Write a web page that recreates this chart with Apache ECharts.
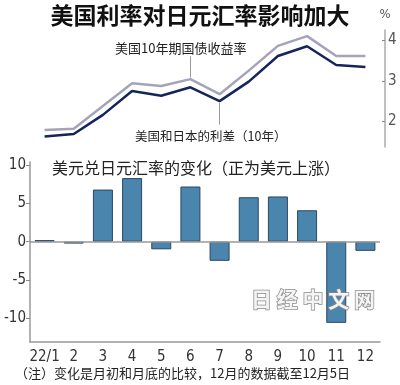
<!DOCTYPE html>
<html><head><meta charset="utf-8">
<script src="https://cdn.jsdelivr.net/npm/echarts@6/dist/echarts.min.js"></script>
<style>html,body{margin:0;padding:0;background:#fff}#c{width:400px;height:385px}</style>
</head><body><div id="c"></div>
<script>
var months = ['22/1','2','3','4','5','6','7','8','9','10','11','12'];
var usYield = [1.79,1.82,2.38,2.94,2.87,3.04,2.67,3.25,3.86,4.10,3.61,3.61];
var spread = [1.63,1.69,2.16,2.75,2.63,2.84,2.50,2.98,3.61,3.85,3.39,3.34];
var fxChange = [0.2,-0.25,6.8,8.3,-1.0,7.2,-2.5,5.8,5.9,4.1,-10.6,-1.2];
var topTicks = [2,3,4];
var bottomTicks = [-10,-5,0,5,10];

var CJK = '"Noto Sans CJK SC", "Noto Sans", sans-serif';
var NUM = '"Liberation Sans Narrow", "DejaVu Sans Condensed", "Liberation Sans", sans-serif';

var chart = echarts.init(document.getElementById('c'), null, {renderer:'canvas'});
chart.setOption({
  animation:false,
  backgroundColor:'#fff',
  grid:[
    {left:30, right:20, top:30, height:117},
    {left:30, right:20, top:162, height:180}
  ],
  xAxis:[
    {gridIndex:0, type:'category', data:months, show:false},
    {gridIndex:1, type:'category', data:months,
     axisLine:{onZero:false, lineStyle:{color:'#999', width:1.5}},
     axisTick:{inside:true, alignWithLabel:true, length:3, lineStyle:{color:'#999'}},
     axisLabel:{interval:0, color:'#333', fontFamily:NUM, fontSize:15, margin:8}}
  ],
  yAxis:[
    {gridIndex:0, type:'value', position:'right', min:1.37, max:4.25, offset:5,
     splitLine:{show:false},
     axisLine:{show:true, lineStyle:{color:'#aaa', width:1.5}},
     axisTick:{show:true, inside:true, length:3, customValues:topTicks, lineStyle:{color:'#888'}},
     axisLabel:{customValues:topTicks, color:'#555', fontFamily:NUM, fontSize:15, margin:3}},
    {gridIndex:1, type:'value', min:-13.1, max:10.4,
     splitLine:{show:false},
     axisLine:{show:true, lineStyle:{color:'#999', width:1.5}},
     axisTick:{show:true, length:4, customValues:bottomTicks, lineStyle:{color:'#888'}},
     axisLabel:{customValues:bottomTicks, color:'#333', fontFamily:NUM, fontSize:15, margin:4}}
  ],
  series:[
    {type:'line', xAxisIndex:0, yAxisIndex:0, data:usYield, symbol:'none',
     lineStyle:{color:'#a4a4b8', width:2.5},
     markLine:{silent:true, symbol:'none', label:{show:false},
       lineStyle:{color:'#999', width:1, type:'solid'},
       data:[[{coord:['6',3.08]},{coord:['6',3.6]}]]}},
    {type:'line', xAxisIndex:0, yAxisIndex:0, data:spread, symbol:'none',
     lineStyle:{color:'#14255a', width:2.5},
     markLine:{silent:true, symbol:'none', label:{show:false},
       lineStyle:{color:'#999', width:1, type:'solid'},
       data:[[{coord:['7',2.46]},{coord:['7',1.92]}]]}},
    {type:'bar', xAxisIndex:1, yAxisIndex:1, data:fxChange, barWidth:20,
     itemStyle:{color:'#4a85ae', borderColor:'#2c4760', borderWidth:1},
     markLine:{silent:true, symbol:'none', label:{show:false},
       lineStyle:{color:'#999', width:1.5, type:'solid'},
       data:[{yAxis:0}]}}
  ],
  graphic:[
    {type:'text', left:'center', top:4, style:{text:'美国利率对日元汇率影响加大', font:'bold 23px '+CJK, fill:'#111'}},
    {type:'text', x:385, y:15, style:{text:'%', font:'13px '+NUM, fill:'#555', align:'center', verticalAlign:'middle'}},
    {type:'text', x:115, y:48, style:{text:'美国10年期国债收益率', font:'13px '+CJK, fill:'#222', verticalAlign:'middle'}},
    {type:'text', x:135, y:136, style:{text:'美国和日本的利差（10年）', font:'12.5px '+CJK, fill:'#222', verticalAlign:'middle'}},
    {type:'text', x:52, y:168, style:{text:'美元兑日元汇率的变化（正为美元上涨）', font:'16px '+CJK, fill:'#222', verticalAlign:'middle'}},
    {type:'text', x:15, y:373, style:{text:'（注）变化是月初和月底的比较，12月的数据截至12月5日', font:'13px '+CJK, fill:'#222', verticalAlign:'middle'}},
    {type:'text', x:313, y:299, z:100, style:{text:'日 经 中 文 网', font:'bold 21px '+CJK, fill:'#f4f4f4', stroke:'#8a8a8a', lineWidth:1.5, align:'center', verticalAlign:'middle', shadowColor:'rgba(0,0,0,0.3)', shadowBlur:2, shadowOffsetX:1, shadowOffsetY:1}}
  ]
});
</script></body></html>
